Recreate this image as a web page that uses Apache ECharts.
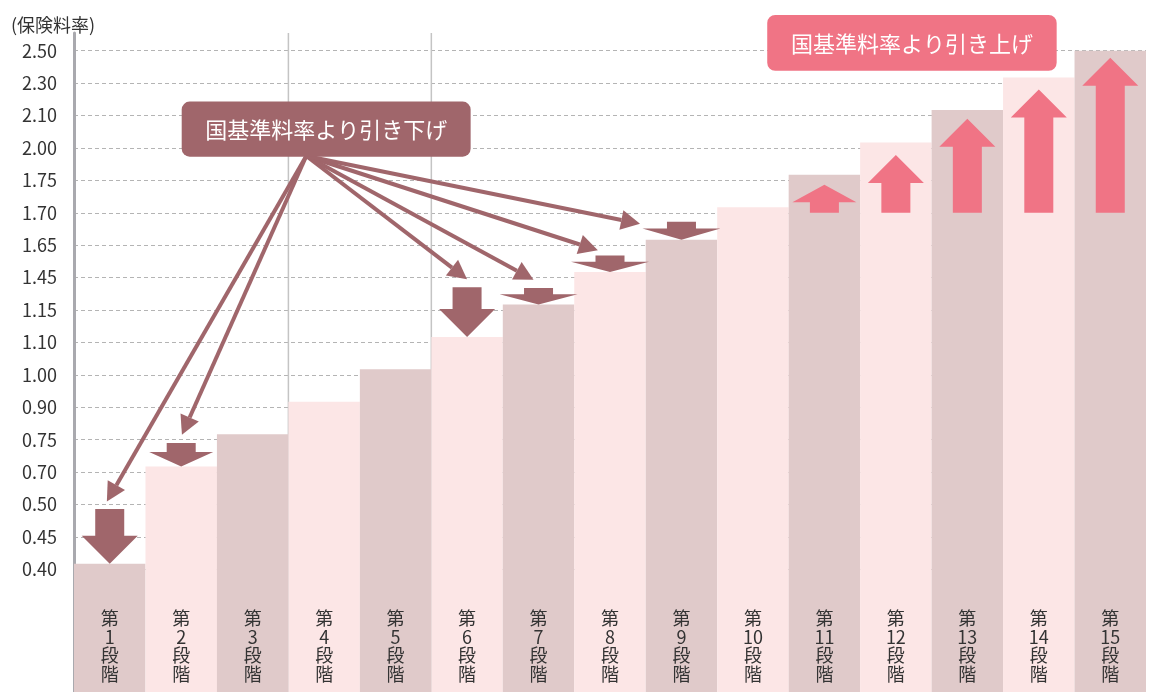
<!DOCTYPE html>
<html lang="ja">
<head>
<meta charset="utf-8">
<title>保険料率</title>
<script src="https://cdn.jsdelivr.net/npm/echarts@6/dist/echarts.min.js"></script>
<style>
  html, body { margin: 0; padding: 0; background: #fff; }
  #chart { width: 1149px; height: 692px; }
</style>
</head>
<body>
<div id="chart"></div>
<script>
// 縦軸の目盛り（値ではなく等間隔で並んでいる）
const TICKS = [0.40, 0.45, 0.50, 0.70, 0.75, 0.90, 1.00, 1.10, 1.15, 1.45, 1.65, 1.70, 1.75, 2.00, 2.10, 2.30, 2.50];
const STAGES = ['第1段階', '第2段階', '第3段階', '第4段階', '第5段階', '第6段階', '第7段階', '第8段階',
  '第9段階', '第10段階', '第11段階', '第12段階', '第13段階', '第14段階', '第15段階'];
const RATES = [0.40, 0.70, 0.75, 0.90, 1.00, 1.10, 1.15, 1.45, 1.65, 1.70, 1.75, 2.00, 2.10, 2.30, 2.50];

// 引き下げ矢印（段階番号、開始位置は目盛り位置の単位）
const DOWN_STAGES = [1, 2, 6, 7, 8, 9];
const DOWN_FROM = [1.86, 3.9, 8.7, 8.68, 9.68, 10.72];
// 引き上げ矢印
const UP_STAGES = [11, 12, 13, 14, 15];
const UP_FROM = [11, 11, 11, 11, 11];
const UP_TO = [11.86, 12.78, 13.9, 14.8, 15.78];

// 吹き出しと引き出し線（x は段階の位置、y は目盛り位置）
const CALLOUT_TEXT = ['国基準料率より引き下げ', '国基準料率より引き上げ'];
const CALLOUT_BOX = [[1.507, 14.43, 5.55, 12.73], [9.70, 17.1, 13.75, 15.38]];
const POINTER_FROM = [3.25, 12.75];
const POINTER_TIPS = [[0.46, 2.09], [1.51, 4.15], [5.50, 8.95], [6.43, 8.93], [7.33, 9.84], [7.92, 10.66]];
const DIVIDERS = [3, 5];

const BASE = 4;          // 0.40 より下に空いている目盛り数
const BAR_LIFT = 0.17;   // 棒の上端が目盛り線より少し上にある
const TOP = TICKS.length - 1 + BASE + 0.545;

const DUSTY = '#e0caca';
const LIGHT = '#fce6e6';
const MAUVE = '#a0666b';
const PINK = '#f07485';
const FONT = '"Noto Sans CJK JP", "Noto Sans", sans-serif';

const barLevel = i => Math.min(TICKS.indexOf(RATES[i]) + BAR_LIFT, TICKS.length - 1) + BASE;

const gridColors = [];
for (let i = 0; i <= TICKS.length - 1 + BASE; i++) gridColors.push(i < BASE ? 'rgba(0,0,0,0)' : '#b4b4b4');
gridColors.push('rgba(0,0,0,0)');

function blockArrow(color) {
  return function (params, api) {
    const x = api.value(0);
    const a = api.coord([x + 0.5, api.value(1)]);
    const b = api.coord([x + 0.5, api.value(2)]);
    const cx = a[0], y0 = a[1], y1 = b[1];
    const len = Math.abs(y1 - y0);
    const dir = y1 > y0 ? 1 : -1;
    const head = Math.min(28, len * 0.62);
    const hw = (len < 20 ? 78 : len < 32 ? 64 : 56) / 2;
    const sw = 29 / 2;
    const yh = y1 - dir * head;
    return {
      type: 'polygon',
      shape: { points: [[cx - sw, y0], [cx + sw, y0], [cx + sw, yh], [cx + hw, yh], [cx, y1], [cx - hw, yh], [cx - sw, yh]] },
      style: { fill: color }
    };
  };
}

function pointer(params, api) {
  const p0 = api.coord([api.value(0), api.value(1)]);
  const p1 = api.coord([api.value(2), api.value(3)]);
  const dx = p1[0] - p0[0], dy = p1[1] - p0[1];
  const d = Math.hypot(dx, dy);
  const ux = dx / d, uy = dy / d;
  const hl = 19, hw = 10;
  const bx = p1[0] - ux * hl, by = p1[1] - uy * hl;
  return {
    type: 'group',
    children: [
      { type: 'line', shape: { x1: p0[0], y1: p0[1], x2: bx, y2: by }, style: { stroke: MAUVE, lineWidth: 4 } },
      { type: 'polygon', shape: { points: [[p1[0], p1[1]], [bx - uy * hw, by + ux * hw], [bx + uy * hw, by - ux * hw]] }, style: { fill: MAUVE } }
    ]
  };
}

function callout(params, api) {
  const a = api.coord([api.value(0), api.value(1)]);
  const b = api.coord([api.value(2), api.value(3)]);
  const i = params.dataIndex;
  return {
    type: 'group',
    children: [
      { type: 'rect', shape: { x: a[0], y: a[1], width: b[0] - a[0], height: b[1] - a[1], r: 8 }, style: { fill: i === 0 ? MAUVE : PINK } },
      {
        type: 'text', x: (a[0] + b[0]) / 2, y: (a[1] + b[1]) / 2 + 1,
        style: {
          text: CALLOUT_TEXT[i], fill: '#fff', fontSize: 22, fontFamily: FONT,
          align: 'center', verticalAlign: 'middle', textAlign: 'center', textVerticalAlign: 'middle'
        }
      }
    ]
  };
}

function divider(params, api) {
  const a = api.coord([api.value(0), 0]);
  const b = api.coord([api.value(0), TOP]);
  return { type: 'line', shape: { x1: a[0], y1: a[1], x2: b[0], y2: b[1] }, style: { stroke: '#c4c4c4', lineWidth: 1.5 } };
}

const chart = echarts.init(document.getElementById('chart'));
chart.setOption({
  animation: false,
  backgroundColor: '#fff',
  title: {
    text: '(保険料率)', left: 6, top: 11,
    textStyle: { fontSize: 18, fontWeight: 'normal', color: '#333', fontFamily: FONT }
  },
  grid: { left: 74, right: 3, top: 33, bottom: -7, outerBoundsMode: 'none', containLabel: false },
  xAxis: [
    {
      type: 'category',
      data: STAGES,
      axisLine: { show: false },
      axisTick: { show: false },
      axisLabel: {
        inside: true, interval: 0, margin: 16,
        fontSize: 18, lineHeight: 18.5, color: '#333', fontFamily: FONT,
        formatter: v => '第\n' + v.slice(1, -2) + '\n段\n階'
      },
      z: 5
    },
    { type: 'value', min: 0, max: STAGES.length, show: false }
  ],
  yAxis: {
    type: 'value',
    min: 0, max: TOP, interval: 1,
    offset: 4,
    axisLine: { show: true, lineStyle: { color: '#a9a9ae', width: 3 } },
    axisTick: { show: false },
    axisLabel: {
      margin: 13, fontSize: 18, color: '#333', fontFamily: FONT,
      formatter: v => {
        const r = Math.round(v);
        if (Math.abs(v - r) > 1e-6 || r < BASE || r - BASE >= TICKS.length) return '';
        return TICKS[r - BASE].toFixed(2);
      }
    },
    splitLine: { show: true, showMaxLine: false, lineStyle: { color: gridColors, type: [4, 3], width: 1.2 } }
  },
  series: [
    {
      type: 'custom', name: 'divider', xAxisIndex: 1, z: 1, silent: true,
      renderItem: divider,
      data: DIVIDERS.map(x => [x])
    },
    {
      type: 'bar', name: '保険料率', xAxisIndex: 0, z: 2,
      barCategoryGap: '0%', barGap: '0%',
      data: RATES.map((r, i) => ({ value: barLevel(i), itemStyle: { color: i % 2 ? LIGHT : DUSTY } }))
    },
    {
      type: 'custom', name: '引き下げ', xAxisIndex: 1, z: 3,
      renderItem: blockArrow(MAUVE),
      data: DOWN_STAGES.map((s, i) => [s - 1, DOWN_FROM[i] + BASE, barLevel(s - 1)])
    },
    {
      type: 'custom', name: '引き上げ', xAxisIndex: 1, z: 3,
      renderItem: blockArrow(PINK),
      data: UP_STAGES.map((s, i) => [s - 1, UP_FROM[i] + BASE, UP_TO[i] + BASE])
    },
    {
      type: 'custom', name: 'pointer', xAxisIndex: 1, z: 4,
      renderItem: pointer,
      data: POINTER_TIPS.map(t => [POINTER_FROM[0], POINTER_FROM[1] + BASE, t[0], t[1] + BASE])
    },
    {
      type: 'custom', name: 'callout', xAxisIndex: 1, z: 5,
      renderItem: callout,
      data: CALLOUT_BOX.map(b => [b[0], b[1] + BASE, b[2], b[3] + BASE])
    }
  ]
});
</script>
</body>
</html>
